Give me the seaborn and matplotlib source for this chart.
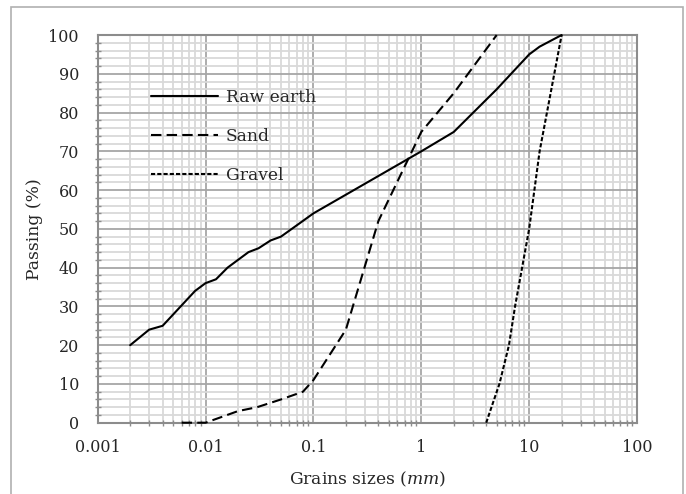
import seaborn as sns
import matplotlib.pyplot as plt
from matplotlib.patches import Rectangle
from matplotlib.ticker import LogLocator, MultipleLocator, FixedLocator, FixedFormatter

# grain size curves
raw_x = [0.002, 0.003, 0.004, 0.008, 0.01, 0.0125, 0.016, 0.025, 0.031, 0.04,
         0.05, 0.075, 0.1, 1, 2, 5, 10, 12.5, 20]
raw_y = [20, 24, 25, 34, 36, 37, 40, 44, 45, 47, 48, 51.5, 54, 70, 75, 86, 95, 97, 100]

sand_x = [0.006, 0.01, 0.02, 0.03, 0.05, 0.08, 0.1, 0.2, 0.4, 1, 2, 5]
sand_y = [0, 0, 3, 4, 6, 8, 11, 24, 52, 75, 85, 100]

gravel_x = [4, 4.6, 5.3, 6.5, 7.4, 10, 12.5, 20]
gravel_y = [0, 5, 10, 20, 30, 50, 70, 100]

x_ticks = [0.001, 0.01, 0.1, 1, 10, 100]
x_labels = ['0.001', '0.01', '0.1', '1', '10', '100']

sns.set_style('white')
plt.rcParams['font.family'] = ['DejaVu Serif']
plt.rcParams['mathtext.fontset'] = 'dejavuserif'
plt.rcParams['font.size'] = 12

fig = plt.figure(figsize=(6.86, 4.94), dpi=100)
ax = fig.add_axes([0.1424, 0.1443, 0.7862, 0.7848])

sns.lineplot(x=raw_x, y=raw_y, ax=ax, color='black', lw=1.5, label='Raw earth',
             zorder=3, clip_on=False)
sns.lineplot(x=sand_x, y=sand_y, ax=ax, color='black', lw=1.5, label='Sand',
             dashes=False, linestyle=(0, (5, 2.5)), zorder=3, clip_on=False)
sns.lineplot(x=gravel_x, y=gravel_y, ax=ax, color='black', lw=1.5, label='Gravel',
             dashes=False, linestyle=(0, (2, 1)), zorder=3, clip_on=False)

ax.set_xscale('log')
ax.set_xlim(0.001, 100)
ax.set_ylim(0, 100)

ax.xaxis.set_major_locator(FixedLocator(x_ticks))
ax.xaxis.set_major_formatter(FixedFormatter(x_labels))
ax.xaxis.set_minor_locator(LogLocator(base=10, subs=range(2, 10), numticks=20))
ax.yaxis.set_major_locator(MultipleLocator(10))
ax.yaxis.set_minor_locator(MultipleLocator(2))

ax.grid(which='minor', color='#d9d9d9', lw=1.3)
ax.grid(which='major', color='#a6a6a6', lw=1.3)
ax.set_axisbelow(True)

for s in ax.spines.values():
    s.set_color('#8c8c8c')
    s.set_linewidth(1.5)

ax.tick_params(which='major', direction='out', length=4.5, width=1.2,
               color='#8c8c8c', labelsize=11.5, pad=7)
ax.tick_params(axis='y', which='major', pad=9)
ax.tick_params(which='minor', direction='inout', length=5, width=1,
               color='#8c8c8c')
ax.tick_params(axis='y', which='minor', left=True)
ax.tick_params(axis='x', which='minor', bottom=True)

ax.set_xlabel('Grains sizes ($mm$)', fontsize=12.3, labelpad=10)
ax.set_ylabel('Passing (%)', fontsize=12.3)
ax.yaxis.set_label_coords(-0.101, 0.5)

ax.legend(loc='upper left', bbox_to_anchor=(0.099, 0.861), frameon=False,
          borderaxespad=0, borderpad=0, handlelength=3.9, handletextpad=0.47,
          labelspacing=1.28, fontsize=12.3)

fig.patches.append(Rectangle((0.016, -0.1), 0.98, 1.086, transform=fig.transFigure,
                             fill=False, edgecolor='#b0b0b0', lw=1.2))

fig.savefig('out.png', dpi=100)
